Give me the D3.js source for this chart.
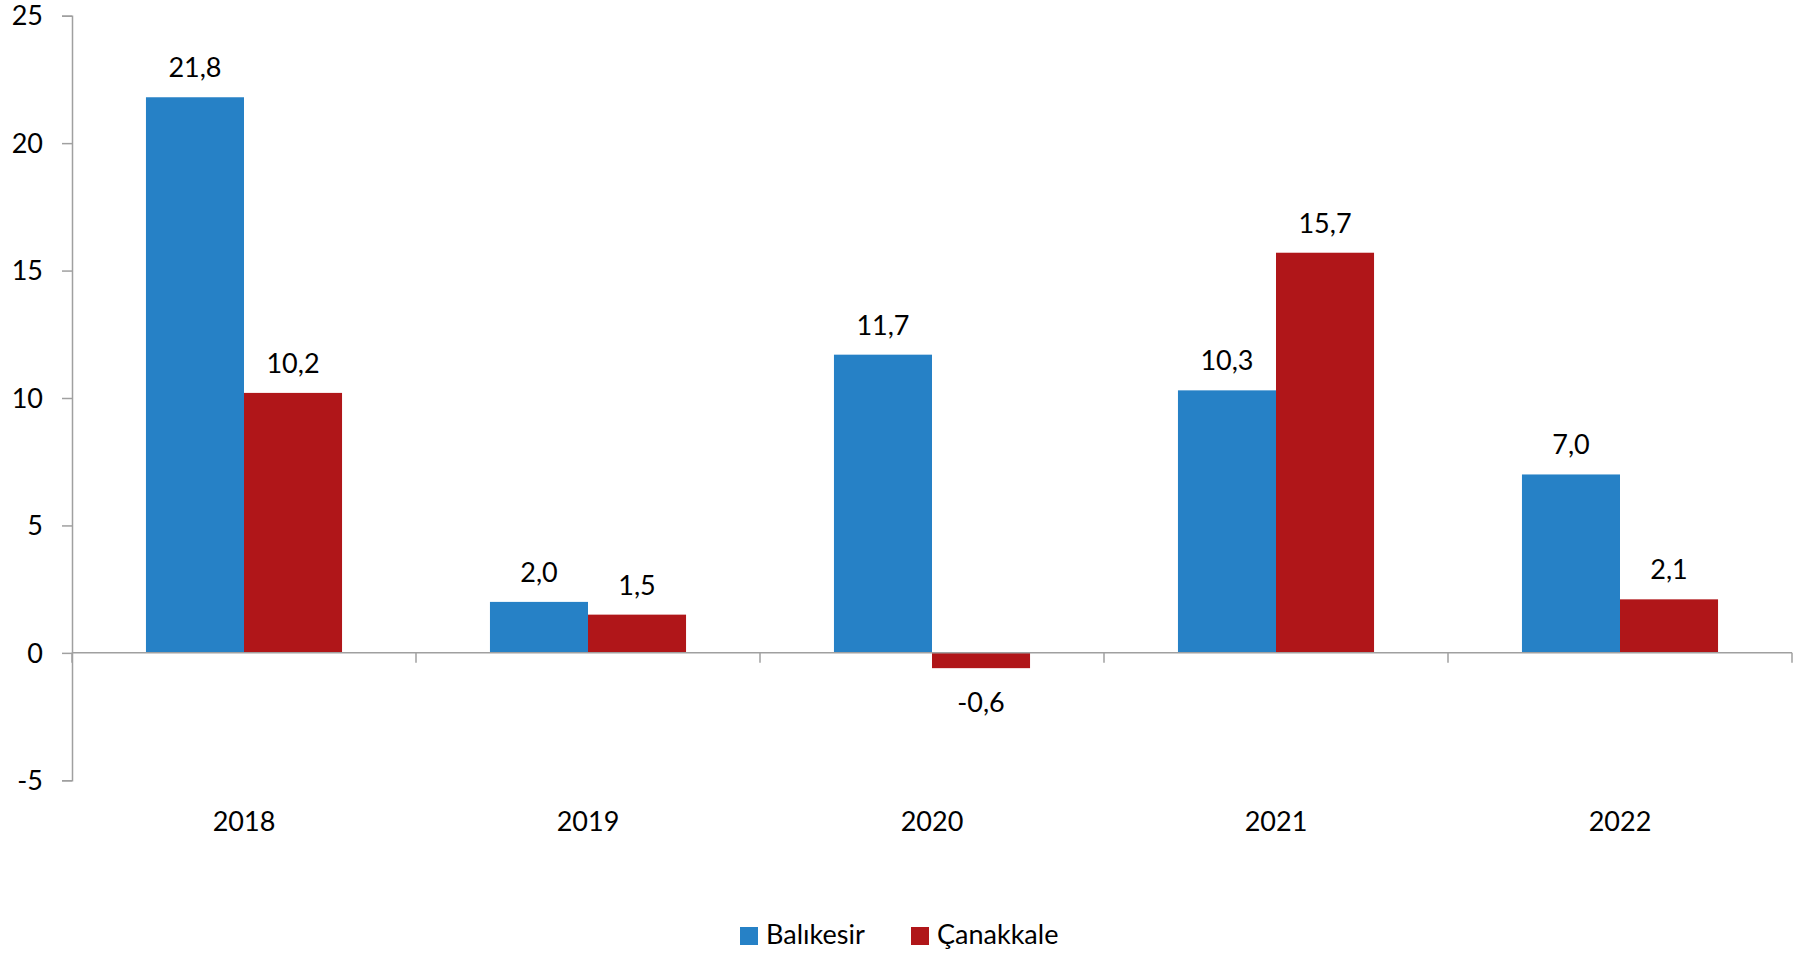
<!DOCTYPE html>
<html><head><meta charset="utf-8">
<script src="https://cdn.jsdelivr.net/npm/d3@7"></script>
<style>html,body{margin:0;padding:0;background:#fff;}svg{display:block;font-family:Lato,"Open Sans",sans-serif;}</style>
</head><body>
<svg id="chart" width="1798" height="955"></svg>
<script>
const categories = ["2018","2019","2020","2021","2022"];
const seriesNames = ["Balıkesir","Çanakkale"];
const balikesir = [21.8, 2.0, 11.7, 10.3, 7.0];
const canakkale = [10.2, 1.5, -0.6, 15.7, 2.1];
const yTicks = [-5, 0, 5, 10, 15, 20, 25];
const colors = ["#2681C6", "#B01619"];

(function(){
const svg = d3.select("#chart");
const pLeft = 72, pRight = 1792, pTop = 15.7, pBottom = 780.3;
const y = d3.scaleLinear().domain([-5, 25]).range([pBottom, pTop]);
const x = d3.scaleBand().domain(categories).range([pLeft, pRight]).padding(0);
const bw = x.bandwidth();
const barW = bw * 0.285;
const fmt = v => v.toFixed(1).replace(".", ",");
const axisColor = "#A0A0A0";
const fontSize = 27;

// y axis
const yAxis = svg.append("g").attr("transform", `translate(${pLeft},0)`)
  .call(d3.axisLeft(y).tickValues(yTicks).tickSize(10).tickPadding(19).tickFormat(d => String(d)));
yAxis.select(".domain").attr("stroke", axisColor).attr("stroke-width", 1.5);
yAxis.selectAll(".tick line").attr("stroke", axisColor).attr("stroke-width", 1.5);
yAxis.selectAll(".tick text").attr("font-size", fontSize).attr("fill", "#000").attr("font-family", "Lato, 'Open Sans', sans-serif").attr("dy", "0.34em");

// bars
const data = categories.map((c, i) => ({cat: c, vals: [balikesir[i], canakkale[i]]}));
const groups = svg.append("g").selectAll("g").data(data).join("g");
groups.each(function(d) {
  const g = d3.select(this);
  const cx = x(d.cat) + bw / 2;
  d.vals.forEach((v, j) => {
    const x0 = cx - barW + j * barW;
    g.append("rect")
      .attr("x", x0).attr("width", barW)
      .attr("y", y(Math.max(0, v))).attr("height", Math.abs(y(v) - y(0)))
      .attr("fill", colors[j]);
    g.append("text")
      .attr("x", x0 + barW / 2)
      .attr("y", v >= 0 ? y(v) - 20 : y(v) + 44)
      .attr("text-anchor", "middle").attr("font-size", fontSize).attr("fill", "#000")
      .text(fmt(v));
  });
});

// x axis at zero
const xAxis = svg.append("g").attr("transform", `translate(0,${y(0)})`);
xAxis.append("line").attr("x1", pLeft).attr("x2", pRight).attr("stroke", axisColor).attr("stroke-width", 1.5);
const boundaries = categories.map(c => x(c)).concat([pRight]);
xAxis.selectAll("line.tk").data(boundaries).join("line").attr("class", "tk")
  .attr("x1", d => d).attr("x2", d => d).attr("y1", 0).attr("y2", 10)
  .attr("stroke", axisColor).attr("stroke-width", 1.5);
svg.append("g").selectAll("text").data(categories).join("text")
  .attr("x", d => x(d) + bw / 2).attr("y", 831)
  .attr("text-anchor", "middle").attr("font-size", fontSize).attr("fill", "#000")
  .text(d => d);

// legend
const legendX = [740, 911];
const lg = svg.append("g").selectAll("g").data(seriesNames).join("g")
  .attr("transform", (d, i) => `translate(${legendX[i]},927)`);
lg.append("rect").attr("width", 18).attr("height", 18).attr("fill", (d, i) => colors[i]);
lg.append("text").attr("x", 26).attr("y", 17).attr("font-size", fontSize).attr("fill", "#000").text(d => d);
})();
</script>
</body></html>
